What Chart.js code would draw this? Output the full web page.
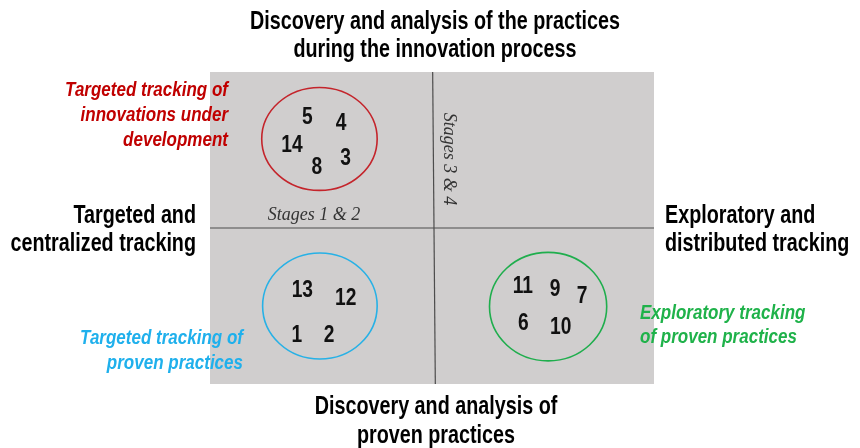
<!DOCTYPE html>
<html>
<head>
<meta charset="utf-8">
<script src="https://cdn.jsdelivr.net/npm/chart.js@4/dist/chart.umd.min.js"></script>
<style>
  body { margin: 0; background: #fff; }
  #wrap { width: 860px; height: 448px; }
</style>
</head>
<body>
<div id="wrap"><canvas id="myChart" width="860" height="448"></canvas></div>
<script>
'use strict';

//Practice numbers and where they sit on the map (-100..100 both ways)
var practiceLabels = ['5', '4', '14', '8', '3', '13', '12', '1', '2', '11', '9', '7', '6', '10'];
var practiceX = [-56.2, -41.0, -63.1, -51.9, -38.9, -58.4, -38.9, -60.9, -46.3, 40.9, 55.5, 67.6, 41.1, 58.0];
var practiceY = [71.8, 67.8, 53.7, 39.3, 45.3, -39.3, -44.4, -68.1, -68.1, -36.5, -38.7, -43.1, -60.7, -62.8];

//Groups drawn as ellipses around the numbers
var groupX = [-50.7, -50.5, 52.3];
var groupY = [57.1, -50.0, -50.4];
var groupRx = [26.0, 25.8, 26.4];
var groupRy = [33.0, 34.0, 34.8];
var groupColors = ['#c4242b', '#27b1e6', '#1fae4d'];

//Quadrant dividers
var verticalX = [0.3, 1.5];
var verticalY = [100, -100];
var horizontalX = [-100, 100];
var horizontalY = [0, 0];

var sans = '"Liberation Sans", Arial, sans-serif';
var serif = '"Liberation Serif", "DejaVu Serif", serif';
var squeeze = 0.79; //no narrow face installed, so squash the regular one

function points(xs, ys) {
  var out = [];
  for (var i = 0; i < xs.length; i++) {
    out.push({ x: xs[i], y: ys[i] });
  }
  return out;
}

function text(ctx, str, x, y, align, sx) {
  ctx.save();
  ctx.translate(x, y);
  ctx.scale(sx, 1);
  ctx.textAlign = align;
  ctx.fillText(str, 0, 0);
  ctx.restore();
}

function lines(ctx, arr, x, y, gap, align, sx) {
  for (var i = 0; i < arr.length; i++) {
    text(ctx, arr[i], x, y + i * gap, align, sx);
  }
}

//Gray box behind the quadrants
var background = {
  id: 'background',
  beforeDraw: function (chart) {
    var a = chart.chartArea;
    var ctx = chart.ctx;
    ctx.save();
    ctx.fillStyle = '#d0cece';
    ctx.fillRect(a.left, a.top, a.right - a.left, a.bottom - a.top);
    ctx.restore();
  }
};

//Ellipses, number labels and the text around the map
var decorations = {
  id: 'decorations',
  afterDatasetsDraw: function (chart) {
    var ctx = chart.ctx;
    var xs = chart.scales.x;
    var ys = chart.scales.y;
    var a = chart.chartArea;
    ctx.save();
    ctx.textBaseline = 'middle';

    for (var i = 0; i < groupX.length; i++) {
      var cx = xs.getPixelForValue(groupX[i]);
      var cy = ys.getPixelForValue(groupY[i]);
      var rx = Math.abs(xs.getPixelForValue(groupX[i] + groupRx[i]) - cx);
      var ry = Math.abs(ys.getPixelForValue(groupY[i] + groupRy[i]) - cy);
      ctx.beginPath();
      ctx.ellipse(cx, cy, rx, ry, 0, 0, Math.PI * 2);
      ctx.strokeStyle = groupColors[i];
      ctx.lineWidth = 1.6;
      ctx.stroke();
    }

    var meta = chart.getDatasetMeta(2);
    ctx.fillStyle = '#111';
    ctx.font = 'bold 24px ' + sans;
    meta.data.forEach(function (pt, k) {
      text(ctx, practiceLabels[k], pt.x, pt.y + 1, 'center', 0.8);
    });

    //stage notes
    ctx.fillStyle = '#333';
    ctx.font = 'italic 18px ' + serif;
    text(ctx, 'Stages 1 & 2', a.left + 104, a.top + 143, 'center', 1);
    ctx.save();
    ctx.translate(a.left + 239, a.top + 87);
    ctx.rotate(Math.PI / 2);
    text(ctx, 'Stages 3 & 4', 0, 0, 'center', 1);
    ctx.restore();

    //axis descriptions
    ctx.fillStyle = '#000';
    ctx.font = 'bold 25px ' + sans;
    lines(ctx, ['Discovery and analysis of the practices', 'during the innovation process'], 435, 22, 28, 'center', squeeze);
    lines(ctx, ['Discovery and analysis of', 'proven practices'], 436, 407, 29, 'center', squeeze);
    lines(ctx, ['Targeted and', 'centralized tracking'], 196, 216, 28, 'right', squeeze);
    lines(ctx, ['Exploratory and', 'distributed tracking'], 665, 216, 28, 'left', squeeze);

    //group names
    ctx.font = 'italic bold 21px ' + sans;
    ctx.fillStyle = '#c00000';
    lines(ctx, ['Targeted tracking of', 'innovations under', 'development'], 228, 90, 25, 'right', 0.81);
    ctx.fillStyle = '#1fb0ec';
    lines(ctx, ['Targeted tracking of', 'proven practices'], 243, 338, 25, 'right', 0.81);
    ctx.fillStyle = '#1fb24a';
    lines(ctx, ['Exploratory tracking', 'of proven practices'], 640, 313, 24, 'left', 0.81);

    ctx.restore();
  }
};

var ctx = document.getElementById('myChart').getContext('2d');
var chart = new Chart(ctx, {
  type: 'scatter',
  data: {
    datasets: [{
      data: points(verticalX, verticalY),
      showLine: true,
      borderColor: '#4d4d4d',
      borderWidth: 1.2,
      pointRadius: 0
    }, {
      data: points(horizontalX, horizontalY),
      showLine: true,
      borderColor: '#4d4d4d',
      borderWidth: 1.2,
      pointRadius: 0
    }, {
      data: points(practiceX, practiceY),
      pointRadius: 0
    }]
  },
  options: {
    responsive: false,
    animation: false,
    layout: { padding: { left: 210, right: 206, top: 72, bottom: 64 } },
    plugins: {
      legend: { display: false },
      tooltip: { enabled: false }
    },
    scales: {
      x: { display: false, min: -100, max: 100 },
      y: { display: false, min: -100, max: 100 }
    }
  },
  plugins: [background, decorations]
});
</script>
</body>
</html>
